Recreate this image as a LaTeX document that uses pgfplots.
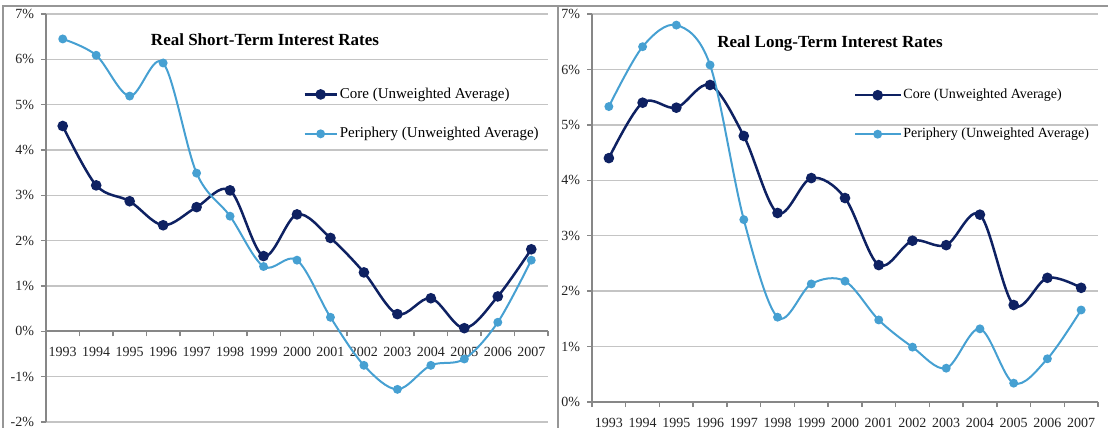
\documentclass[border=0pt]{standalone}
\usepackage{fontspec}
\setmainfont{Liberation Serif}
\usepackage{pgfplots}
\usepackage{pgfplotstable}
\pgfplotsset{compat=1.18}
\definecolor{core}{RGB}{14,33,98}
\definecolor{peri}{RGB}{70,160,210}
\definecolor{gridc}{RGB}{196,196,196}
\definecolor{axisc}{RGB}{135,135,135}
\definecolor{framec}{RGB}{150,150,150}
\definecolor{tickc}{RGB}{35,35,35}

\pgfplotstableread{
x core peri
0 4.53 6.45
1 3.22 6.09
2 2.87 5.19
3 2.34 5.92
4 2.74 3.49
5 3.11 2.54
6 1.66 1.43
7 2.58 1.57
8 2.06 0.31
9 1.30 -0.75
10 0.38 -1.28
11 0.73 -0.75
12 0.07 -0.61
13 0.77 0.20
14 1.81 1.57
}\shortrates

\pgfplotstableread{
x core peri
0 4.40 5.33
1 5.40 6.41
2 5.31 6.80
3 5.72 6.08
4 4.80 3.29
5 3.41 1.53
6 4.04 2.13
7 3.68 2.18
8 2.47 1.48
9 2.91 0.99
10 2.83 0.61
11 3.38 1.32
12 1.75 0.34
13 2.24 0.78
14 2.06 1.66
}\longrates

\pgfplotsset{
  panel/.style={
    scale only axis,
    xmin=-0.5, xmax=14.5,
    xtick={0,...,14},
    xticklabels={1993,1994,1995,1996,1997,1998,1999,2000,2001,2002,2003,2004,2005,2006,2007},
    minor xtick={-0.5,0.5,...,14.5},
    major x tick style={draw=none},
    minor x tick style={axisc, line width=0.75pt},
    major y tick style={axisc, line width=0.75pt},
    minor tick length=2.5pt,
    major tick length=2.5pt,
    tick align=outside,
    axis y line*=left,
    axis line style={-, axisc, line width=0.9pt},
    ymajorgrids,
    major grid style={gridc, line width=0.75pt},
    tick label style={font=\fontsize{7}{8}\selectfont, text=tickc},
    xticklabel style={yshift=-2pt},
    hide obscured x ticks=false,
    hide obscured y ticks=false,
    legend cell align=left,
    clip=false,
  },
  coreplot/.style={core, line width=1.25pt, smooth, tension=0.55, mark=*, mark size=2pt, mark options={fill=core, draw=core}},
  periplot/.style={peri, line width=1pt, smooth, tension=0.55, mark=*, mark size=1.7pt, mark options={fill=peri, draw=peri}},
}

\begin{document}
\begin{tikzpicture}
\path[use as bounding box] (0,0) rectangle (554pt,214pt);
% panel frames
\draw[framec, line width=0.8pt] (1.5pt,0) -- (1.5pt,211pt) -- (554pt,211pt);
\draw[framec, line width=0.8pt] (279pt,0) -- (279pt,211pt);

% Left panel: short-term
\begin{axis}[panel,
  at={(23pt,3pt)}, anchor=south west,
  width=251pt, height=204pt,
  ymin=-2, ymax=7,
  ytick={-2,-1,0,1,2,3,4,5,6,7},
  yticklabels={-2\%,-1\%,0\%,1\%,2\%,3\%,4\%,5\%,6\%,7\%},
  axis x line*=middle,
  legend style={at={(0.5,0.835)}, anchor=north west, draw=none, fill=none,
    font=\fontsize{7.5}{9}\selectfont, row sep=11pt,
    nodes={inner sep=1pt, text height=5.2pt, text depth=1.5pt}},
  legend image code/.code={\draw[mark repeat=2,mark phase=2,#1] plot coordinates {(0pt,0pt) (8pt,0pt) (16pt,0pt)};},
]
\addplot[coreplot] table[x=x, y=core] {\shortrates};
\addlegendentry{Core (Unweighted Average)}
\addplot[periplot] table[x=x, y=peri] {\shortrates};
\addlegendentry{Periphery (Unweighted Average)}
\end{axis}
\node[font=\bfseries\fontsize{8.5}{10}\selectfont] at (132.5pt,194pt) {Real Short-Term Interest Rates};

% Right panel: long-term
\begin{axis}[panel,
  at={(296pt,13pt)}, anchor=south west,
  width=253pt, height=194pt,
  ymin=0, ymax=7,
  ytick={0,1,2,3,4,5,6,7},
  yticklabels={0\%,1\%,2\%,3\%,4\%,5\%,6\%,7\%},
  axis x line*=bottom,
  legend style={at={(0.505,0.824)}, anchor=north west, draw=none, fill=none,
    font=\fontsize{7}{8.5}\selectfont, row sep=11pt,
    nodes={inner sep=1pt, text height=5pt, text depth=1.5pt}},
  legend image code/.code={\draw[mark repeat=2,mark phase=2,#1] plot coordinates {(0pt,0pt) (11.25pt,0pt) (22.5pt,0pt)};},
]
\addplot[coreplot] table[x=x, y=core] {\longrates};
\addlegendentry{Core (Unweighted Average)}
\addplot[periplot] table[x=x, y=peri] {\longrates};
\addlegendentry{Periphery (Unweighted Average)}
\end{axis}
\node[font=\bfseries\fontsize{8.5}{10}\selectfont] at (415pt,192.5pt) {Real Long-Term Interest Rates};
\end{tikzpicture}
\end{document}
